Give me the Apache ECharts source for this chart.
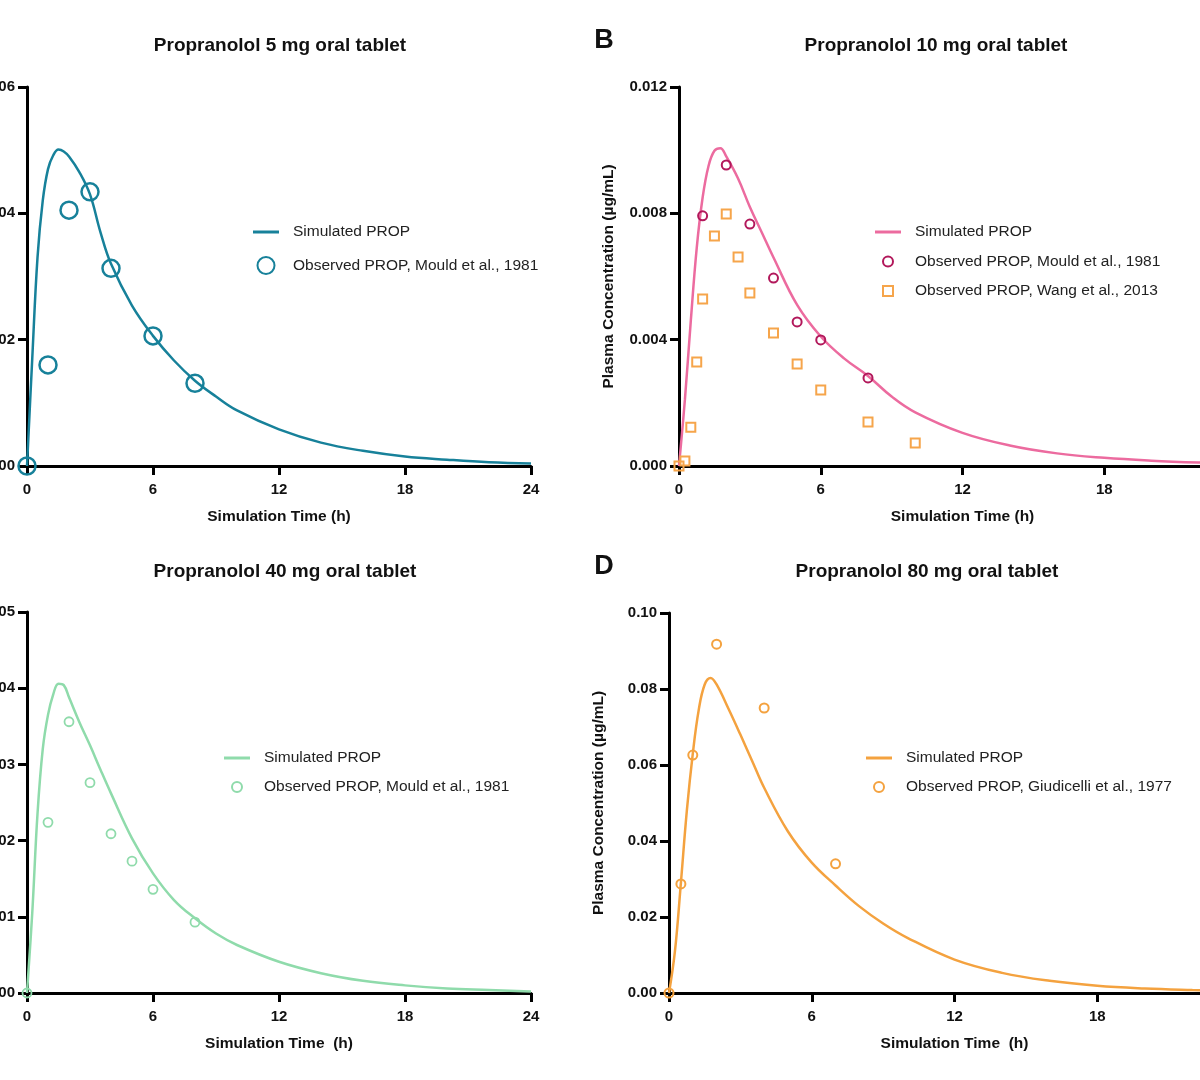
<!DOCTYPE html>
<html>
<head>
<meta charset="utf-8">
<script src="https://cdn.jsdelivr.net/npm/echarts@6/dist/echarts.min.js"></script>
<style>
  html, body { margin: 0; padding: 0; background: #fff; }
  #chart { width: 1200px; height: 1080px; }
</style>
</head>
<body>
<div id="chart"></div>
<script>
// simulated curves, shared time grid in hours
const simTime = [0, 0.25, 0.5, 0.75, 1, 1.25, 1.5, 1.75, 2, 2.5, 3, 3.5, 4, 5, 6, 7, 8, 9, 10, 12, 14, 16, 18, 20, 22, 24];
const simA = [0, 0.0017, 0.0033, 0.0042, 0.0047, 0.00492, 0.00501, 0.00498, 0.0049, 0.00465, 0.0043, 0.0037, 0.0032, 0.00254, 0.00206, 0.00167, 0.00135, 0.0011, 0.00088, 0.00058, 0.00037, 0.00024, 0.00015, 0.0001, 0.00006, 0.00004];
const simB = [0, 0.0021, 0.0046, 0.0069, 0.0085, 0.0095, 0.00998, 0.01006, 0.0098, 0.0091, 0.0082, 0.0074, 0.0066, 0.0051, 0.0041, 0.0034, 0.00285, 0.0022, 0.0017, 0.00105, 0.00065, 0.0004, 0.00026, 0.00017, 0.00011, 0.00007];
const simC = [0, 0.0105, 0.0235, 0.032, 0.0365, 0.0392, 0.0406, 0.0404, 0.0388, 0.0355, 0.0325, 0.0293, 0.0262, 0.0203, 0.0157, 0.0122, 0.0098, 0.0078, 0.0063, 0.0041, 0.0026, 0.0016, 0.001, 0.0006, 0.0004, 0.0002];
const simD = [0, 0.011, 0.029, 0.048, 0.063, 0.0745, 0.0812, 0.0829, 0.0812, 0.0748, 0.068, 0.061, 0.054, 0.0425, 0.0343, 0.0283, 0.0228, 0.0183, 0.0146, 0.0088, 0.0053, 0.0032, 0.0019, 0.0012, 0.0008, 0.0005];

// observed points
const obsTimeA = [0, 1, 2, 3, 4, 6, 8];
const obsA = [0, 0.0016, 0.00405, 0.00434, 0.00313, 0.00206, 0.00131];
const mouldTimeB = [1, 2, 3, 4, 5, 6, 8];
const mouldB = [0.00792, 0.00953, 0.00766, 0.00595, 0.00456, 0.00399, 0.00279];
const wangTimeB = [0, 0.25, 0.5, 0.75, 1, 1.5, 2, 2.5, 3, 4, 5, 6, 8, 10];
const wangB = [0, 0.00016, 0.00123, 0.00329, 0.00529, 0.00728, 0.00798, 0.00662, 0.00548, 0.00421, 0.00323, 0.00241, 0.00139, 0.00073];
const obsTimeC = [0, 1, 2, 3, 4, 5, 6, 8];
const obsC = [0, 0.0224, 0.0356, 0.0276, 0.0209, 0.0173, 0.0136, 0.0093];
const obsTimeD = [0, 0.5, 1, 2, 4, 7];
const obsD = [0, 0.0287, 0.0626, 0.0918, 0.075, 0.034];

const xTicks = { min: 0, max: 24, interval: 6 };

const FONT = "'Liberation Sans', Arial, sans-serif";
const LINE_ICON = "path://M0,0H26V3H0Z";
const SQUARE_ICON = "path://M0,0H10V10H0Z";
const pairs = (xs, ys) => xs.map((x, i) => [x, ys[i]]);
const label = (name) => name.split("|")[1];

const chart = echarts.init(document.getElementById("chart"), null, { renderer: "canvas" });

const axisCommon = {
  axisLine: { lineStyle: { color: "#000", width: 3 } },
  axisTick: { length: 9, lineStyle: { color: "#000", width: 3 } },
  splitLine: { show: false },
  nameTextStyle: { color: "#111", fontWeight: "bold", fontSize: 15.5, fontFamily: FONT },
};
const axisLabel = (digits, margin) => ({
  color: "#111",
  fontWeight: "bold",
  fontSize: 15,
  fontFamily: FONT,
  margin,
  formatter: (v) => v.toFixed(digits),
});

function xAxis(gridIndex, name) {
  return Object.assign({}, axisCommon, {
    type: "value",
    gridIndex,
    min: xTicks.min,
    max: xTicks.max,
    interval: xTicks.interval,
    name,
    nameLocation: "middle",
    nameGap: 43,
    axisLabel: axisLabel(0, 16),
  });
}
function yAxis(gridIndex, max, interval, digits, name) {
  return Object.assign({}, axisCommon, {
    type: "value",
    gridIndex,
    min: 0,
    max,
    interval,
    name,
    nameLocation: "middle",
    nameGap: 62,
    axisLabel: axisLabel(digits, 12),
  });
}

function simLine(name, idx, ys, color) {
  return {
    name, type: "line", xAxisIndex: idx, yAxisIndex: idx,
    data: pairs(simTime, ys), symbol: "none", smooth: 0.4,
    lineStyle: { color, width: 2.5 }, itemStyle: { color }, z: 3,
  };
}
function obsPoints(name, idx, xs, ys, color, symbol, size, bw) {
  return {
    name, type: "scatter", xAxisIndex: idx, yAxisIndex: idx,
    data: pairs(xs, ys), symbol, symbolSize: size, clip: false,
    itemStyle: { color: "rgba(255,255,255,0)", borderColor: color, borderWidth: bw, opacity: 1 },
    z: 4,
  };
}
// first entry is the simulated line, a square icon is used for the Wang data
function legend(left, top, names, itemHeight, gap) {
  return {
    orient: "vertical", left, top, padding: 0, symbolKeepAspect: true,
    data: names.map((n, i) => {
      if (i === 0) return { name: n, icon: LINE_ICON };
      if (n.indexOf("Wang") >= 0) return { name: n, icon: SQUARE_ICON };
      return n;
    }),
    itemWidth: 26, itemHeight, itemGap: gap,
    formatter: label, selectedMode: false,
    textStyle: { color: "#222", fontSize: 15.5, fontFamily: FONT, lineHeight: 16, padding: [0, 0, 0, 9] },
  };
}
function text(x, y, str, size) {
  return {
    type: "text", x, y,
    style: { text: str, font: "bold " + size + "px " + FONT, fill: "#111", align: "center", verticalAlign: "middle" },
  };
}

const teal = "#17819a", pink = "#ec6b9f", berry = "#b2185b", amber = "#f6a54b", mint = "#8fdbab", orange = "#f4a23f";

const gridBase = { outerBoundsMode: "none", containLabel: false };

const option = {
  animation: false,
  grid: [
    Object.assign({ left: 27, top: 87, width: 504, height: 379 }, gridBase),
    Object.assign({ left: 679, top: 87, width: 567, height: 379 }, gridBase),
    Object.assign({ left: 27, top: 612, width: 504, height: 381 }, gridBase),
    Object.assign({ left: 669, top: 613, width: 571, height: 380 }, gridBase),
  ],
  xAxis: [
    xAxis(0, "Simulation Time (h)"),
    xAxis(1, "Simulation Time (h)"),
    xAxis(2, "Simulation Time  (h)"),
    xAxis(3, "Simulation Time  (h)"),
  ],
  yAxis: [
    yAxis(0, 0.006, 0.002, 3),
    yAxis(1, 0.012, 0.004, 3, "Plasma Concentration (µg/mL)"),
    yAxis(2, 0.05, 0.01, 2),
    yAxis(3, 0.1, 0.02, 2, "Plasma Concentration (µg/mL)"),
  ],
  legend: [
    legend(253, 224, ["A|Simulated PROP", "A|Observed PROP, Mould et al., 1981"], 17, 16),
    legend(875, 224, ["B|Simulated PROP", "B|Observed PROP, Mould et al., 1981", "B|Observed PROP, Wang et al., 2013"], 10, 13.5),
    legend(224, 750, ["C|Simulated PROP", "C|Observed PROP, Mould et al., 1981"], 10, 13),
    legend(866, 750, ["D|Simulated PROP", "D|Observed PROP, Giudicelli et al., 1977"], 10, 13),
  ],
  graphic: [
    text(280, 46, "Propranolol 5 mg oral tablet", 19),
    text(936, 46, "Propranolol 10 mg oral tablet", 19),
    text(285, 572, "Propranolol 40 mg oral tablet", 19),
    text(927, 572, "Propranolol 80 mg oral tablet", 19),
    text(604, 41, "B", 27),
    text(604, 567, "D", 27),
  ],
  series: [
    simLine("A|Simulated PROP", 0, simA, teal),
    obsPoints("A|Observed PROP, Mould et al., 1981", 0, obsTimeA, obsA, teal, "circle", 17, 2.5),
    simLine("B|Simulated PROP", 1, simB, pink),
    obsPoints("B|Observed PROP, Mould et al., 1981", 1, mouldTimeB, mouldB, berry, "circle", 9, 2),
    obsPoints("B|Observed PROP, Wang et al., 2013", 1, wangTimeB, wangB, amber, "rect", 9, 2),
    simLine("C|Simulated PROP", 2, simC, mint),
    obsPoints("C|Observed PROP, Mould et al., 1981", 2, obsTimeC, obsC, mint, "circle", 9, 1.8),
    simLine("D|Simulated PROP", 3, simD, orange),
    obsPoints("D|Observed PROP, Giudicelli et al., 1977", 3, obsTimeD, obsD, orange, "circle", 9, 2),
  ],
};

chart.setOption(option);
</script>
</body>
</html>
